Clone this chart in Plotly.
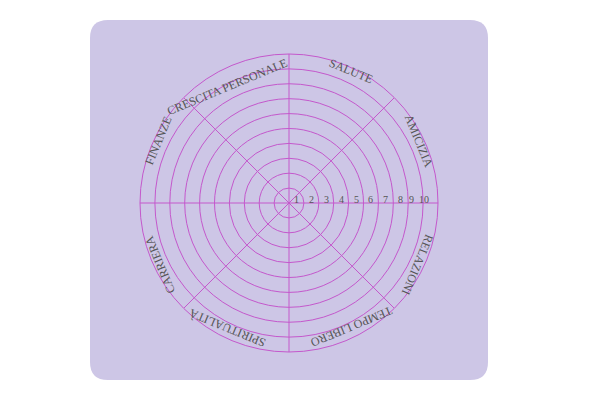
import math
import plotly.graph_objects as go

categories = ["AMICIZIA", "SALUTE", "CRESCITA PERSONALE", "FINANZE",
              "CARRIERA", "SPIRITUALITÀ", "TEMPO LIBERO", "RELAZIONI"]
category_angles = [22.5, 67.5, 112.5, 157.5, 202.5, 247.5, 292.5, 337.5]
scale_values = list(range(1, 11))
spoke_angles = [0, 45, 90, 135]

OFF = 8  # page body margin
W, H = 592, 392
cx, cy, R = 289 - OFF, 203 - OFF, 149
LINE = "#c458cc"

fig = go.Figure()
for a in spoke_angles:
    fig.add_trace(go.Scatterpolar(r=[10, 10], theta=[a, a + 180], mode="lines",
                                  line=dict(color=LINE, width=1),
                                  hoverinfo="skip", showlegend=False))

fig.update_layout(
    width=W, height=H, margin=dict(l=0, r=0, t=0, b=0),
    paper_bgcolor="white", showlegend=False,
    polar=dict(
        domain=dict(x=[(cx - R) / W, (cx + R) / W],
                    y=[(H - cy - R) / H, (H - cy + R) / H]),
        bgcolor="rgba(0,0,0,0)",
        radialaxis=dict(range=[0, 10], tickvals=scale_values, showticklabels=False,
                        ticks="", gridcolor=LINE, gridwidth=1, showline=False),
        angularaxis=dict(showgrid=False, showticklabels=False, ticks="",
                         linecolor=LINE, linewidth=1,
                         rotation=0, direction="counterclockwise"),
    ),
)

# rounded background card
x0, x1, y0, y1, rr = (90 - OFF) / W, (488 - OFF) / W, 1 - (380 - OFF) / H, 1 - (20 - OFF) / H, 18
rx, ry = rr / W, rr / H
path = (f"M {x0+rx},{y0} L {x1-rx},{y0} Q {x1},{y0} {x1},{y0+ry} "
        f"L {x1},{y1-ry} Q {x1},{y1} {x1-rx},{y1} L {x0+rx},{y1} "
        f"Q {x0},{y1} {x0},{y1-ry} L {x0},{y0+ry} Q {x0},{y0} {x0+rx},{y0} Z")
fig.add_shape(type="path", path=path, xref="paper", yref="paper",
              fillcolor="#cdc6e6", line=dict(width=0), layer="below")

# category labels around the wheel
for name, ang in zip(categories, category_angles):
    a = math.radians(ang)
    px = cx + 162 * math.cos(a)
    py = cy - 162 * math.sin(a)
    fig.add_annotation(x=px / W, y=1 - py / H, xref="paper", yref="paper",
                       text=name, showarrow=False, textangle=90 - ang,
                       font=dict(family="Liberation Serif", size=12, color="#555555"))

# scale numbers along the 0° spoke
for v in scale_values:
    px = cx + (v - 0.5) * R / 10
    fig.add_annotation(x=px / W, y=1 - (cy - 4) / H, xref="paper", yref="paper",
                       text=str(v), showarrow=False,
                       font=dict(family="Liberation Serif", size=10, color="#555555"))

fig.write_html("out.html")
